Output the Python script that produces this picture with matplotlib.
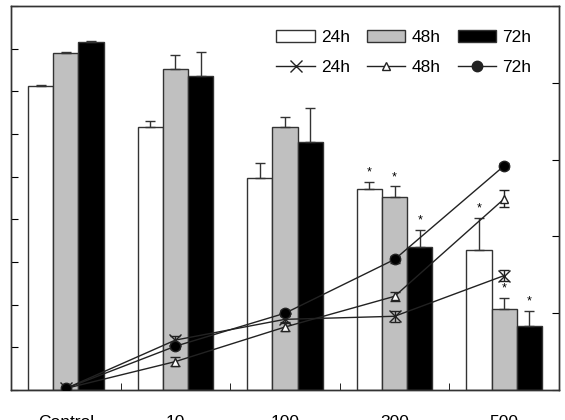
import numpy as np
import matplotlib.pyplot as plt
from matplotlib.patches import Rectangle
from matplotlib.lines import Line2D

plt.rcParams['font.family'] = ['Liberation Sans', 'DejaVu Sans']

# --- datos ---
groups = ["Control", "10", "100", "300", "500"]
times = ["24h", "48h", "72h"]

# barras (eje izquierdo)
bar_24 = [7.12, 6.16, 4.98, 4.71, 3.29]
bar_48 = [7.90, 7.53, 6.16, 4.52, 1.89]
bar_72 = [8.16, 7.37, 5.81, 3.36, 1.50]
bar_24_err = [0.02, 0.15, 0.35, 0.16, 0.74]
bar_48_err = [0.02, 0.31, 0.24, 0.25, 0.26]
bar_72_err = [0.02, 0.55, 0.80, 0.40, 0.36]
bar_sig = [False, False, False, True, True]

# lineas (eje derecho)
line_24 = [0.02, 0.65, 0.92, 0.96, 1.49]
line_48 = [0.02, 0.37, 0.82, 1.22, 2.49]
line_72 = [0.02, 0.57, 1.00, 1.70, 2.92]
line_24_err = [0.02, 0.05, 0.04, 0.07, 0.07]
line_48_err = [0.02, 0.06, 0.05, 0.06, 0.11]
line_72_err = [0.02, 0.04, 0.04, 0.04, 0.04]

fig = plt.figure(figsize=(5.65, 4.2), dpi=100)
ax = fig.add_axes([11 / 565, 30 / 420, 548 / 565, 384 / 420])
ax2 = ax.twinx()

x = np.arange(len(groups))
w = 0.23
bar_sets = [(bar_24, bar_24_err, "white"), (bar_48, bar_48_err, "#c0c0c0"), (bar_72, bar_72_err, "black")]
for i, (vals, errs, col) in enumerate(bar_sets):
    xs = x + (i - 1) * w
    ax.bar(xs, vals, w, color=col, edgecolor="#333333", linewidth=1.0, zorder=2)
    ax.errorbar(xs, vals, yerr=[np.zeros(len(errs)), errs], fmt="none",
                ecolor="#333333", elinewidth=1.0, capsize=3.5, zorder=3)
    for j in range(len(groups)):
        if bar_sig[j]:
            ax.text(xs[j], vals[j] + errs[j] + 0.08, "*", ha="center", va="bottom", fontsize=9)

ax.set_xlim(-0.5, 4.5)
ax.set_ylim(0, 9)
ax.set_yticks(np.arange(0, 10))
ax.set_yticklabels([])
ax.set_xticks(x)
ax.set_xticklabels(groups, fontsize=12.5)
ax.set_xticks(x[:-1] + 0.5, minor=True)
ax.tick_params(axis="x", which="major", length=0, pad=18)
ax.tick_params(axis="x", which="minor", direction="in", length=5)
ax.tick_params(axis="y", direction="in", length=5)

line_sets = [(line_24, line_24_err, "x", "black", 8), (line_48, line_48_err, "^", "white", 6),
             (line_72, line_72_err, "o", "black", 7.5)]
for vals, errs, mk, fc, ms in line_sets:
    ax2.errorbar(x, vals, yerr=errs, color="#222222", linewidth=1.0, marker=mk,
                 markerfacecolor=fc, markeredgecolor="#222222", markersize=ms,
                 capsize=3.5, elinewidth=1.0, zorder=4)
ax2.set_ylim(0, 5)
ax2.set_yticks(np.arange(0, 6))
ax2.set_yticklabels([])
ax2.tick_params(axis="y", direction="in", length=5)

for a in (ax, ax2):
    for s in a.spines.values():
        s.set_color("#333333")
        s.set_linewidth(1.0)

handles = [
    Rectangle((0, 0), 1, 1, facecolor="white", edgecolor="#333333", linewidth=1.0),
    Line2D([], [], color="#222222", marker="x", markersize=8, linewidth=1.0),
    Rectangle((0, 0), 1, 1, facecolor="#c0c0c0", edgecolor="#333333", linewidth=1.0),
    Line2D([], [], color="#222222", marker="^", markerfacecolor="white", markersize=6, linewidth=1.0),
    Rectangle((0, 0), 1, 1, facecolor="black", edgecolor="#333333", linewidth=1.0),
    Line2D([], [], color="#222222", marker="o", markersize=7.5, linewidth=1.0),
]
labels = ["24h", "24h", "48h", "48h", "72h", "72h"]
ax2.legend(handles, labels, ncol=3, frameon=False, fontsize=12.5, loc="upper right",
           bbox_to_anchor=(531 / 565, 1 - 30 / 420), bbox_transform=fig.transFigure,
           borderpad=0, borderaxespad=0, handlelength=2.2, handletextpad=0.35,
           columnspacing=1.0, labelspacing=0.85)

fig.savefig("out.png", dpi=100)
